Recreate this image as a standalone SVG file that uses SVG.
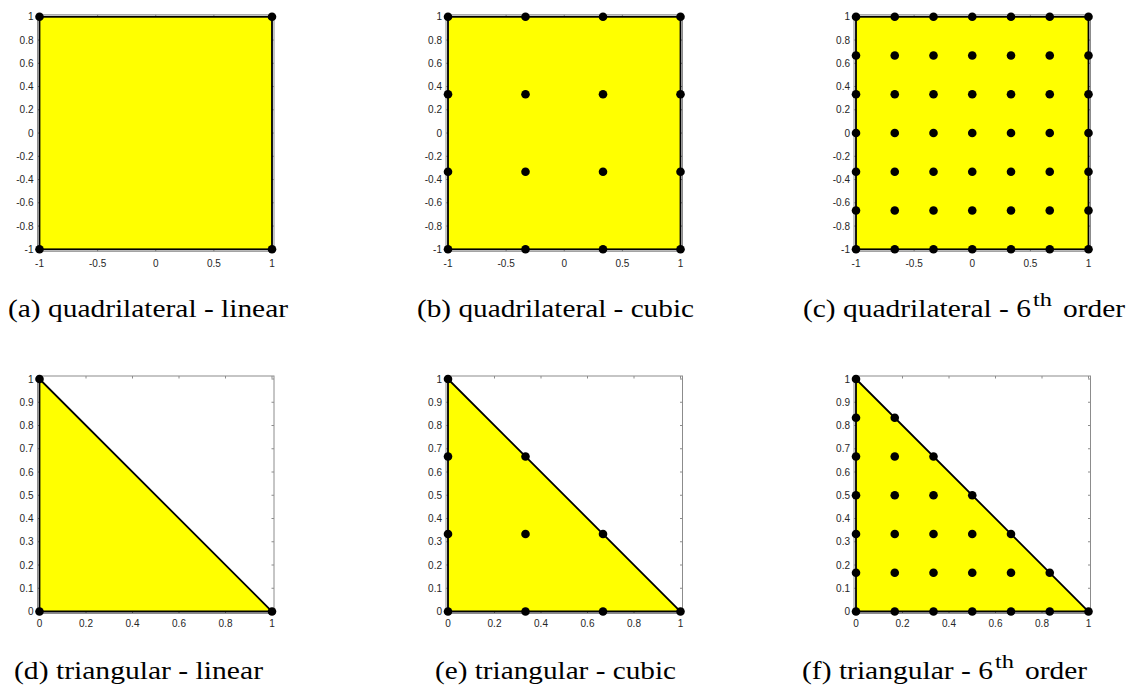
<svg xmlns="http://www.w3.org/2000/svg" xmlns:xlink="http://www.w3.org/1999/xlink" width="1132" height="689" viewBox="0 0 1132 689">
<style>
.frame{fill:none;stroke:#8c8c8c;stroke-width:1}
.tick{fill:none;stroke:#8c8c8c;stroke-width:1}
.elem{fill:#ffff00;stroke:#000;stroke-width:1.8;stroke-linejoin:miter}
.pt{fill:#000}
.yl{font-family:'Liberation Sans',Arial,sans-serif;font-size:10px;fill:#262626;text-anchor:end}
.xl{font-family:'Liberation Sans',Arial,sans-serif;font-size:10px;fill:#262626;text-anchor:middle}
.cap{font-family:'Liberation Serif','Times New Roman',serif;font-size:26px;fill:#000}
.sup{font-family:'Liberation Serif','Times New Roman',serif;font-size:18px;fill:#000}
</style>
<defs>
<g id="qframe">
<rect class="frame" x="-2" y="-2" width="236.5" height="236.5"/>
<path class="tick" d="M0 234.5v-2.5M58.13 234.5v-2.5M116.25 234.5v-2.5M174.38 234.5v-2.5M232.5 234.5v-2.5M0 -2v2.5M58.13 -2v2.5M116.25 -2v2.5M174.38 -2v2.5M232.5 -2v2.5M-2 0h2.5M-2 23.25h2.5M-2 46.5h2.5M-2 69.75h2.5M-2 93h2.5M-2 116.25h2.5M-2 139.5h2.5M-2 162.75h2.5M-2 186h2.5M-2 209.25h2.5M-2 232.5h2.5M234.5 0h-2.5M234.5 23.25h-2.5M234.5 46.5h-2.5M234.5 69.75h-2.5M234.5 93h-2.5M234.5 116.25h-2.5M234.5 139.5h-2.5M234.5 162.75h-2.5M234.5 186h-2.5M234.5 209.25h-2.5M234.5 232.5h-2.5"/>
</g>
<g id="tframe">
<rect class="frame" x="-2" y="-3" width="236.5" height="237.5"/>
<path class="tick" d="M0 234.5v-2.5M46.5 234.5v-2.5M93 234.5v-2.5M139.5 234.5v-2.5M186 234.5v-2.5M232.5 234.5v-2.5M0 -3v2.5M46.5 -3v2.5M93 -3v2.5M139.5 -3v2.5M186 -3v2.5M232.5 -3v2.5M-2 0h2.5M-2 23.25h2.5M-2 46.5h2.5M-2 69.75h2.5M-2 93h2.5M-2 116.25h2.5M-2 139.5h2.5M-2 162.75h2.5M-2 186h2.5M-2 209.25h2.5M-2 232.5h2.5M234.5 0h-2.5M234.5 23.25h-2.5M234.5 46.5h-2.5M234.5 69.75h-2.5M234.5 93h-2.5M234.5 116.25h-2.5M234.5 139.5h-2.5M234.5 162.75h-2.5M234.5 186h-2.5M234.5 209.25h-2.5M234.5 232.5h-2.5"/>
</g>
<g id="qlabels">
<text class="yl" x="-6" y="3.5">1</text>
<text class="yl" x="-6" y="26.75">0.8</text>
<text class="yl" x="-6" y="50">0.6</text>
<text class="yl" x="-6" y="73.25">0.4</text>
<text class="yl" x="-6" y="96.5">0.2</text>
<text class="yl" x="-6" y="119.75">0</text>
<text class="yl" x="-6" y="143">-0.2</text>
<text class="yl" x="-6" y="166.25">-0.4</text>
<text class="yl" x="-6" y="189.5">-0.6</text>
<text class="yl" x="-6" y="212.75">-0.8</text>
<text class="yl" x="-6" y="236">-1</text>
<text class="xl" x="0" y="250">-1</text>
<text class="xl" x="58.13" y="250">-0.5</text>
<text class="xl" x="116.25" y="250">0</text>
<text class="xl" x="174.38" y="250">0.5</text>
<text class="xl" x="232.5" y="250">1</text>
</g>
<g id="tlabels">
<text class="yl" x="-6" y="3.5">1</text>
<text class="yl" x="-6" y="26.75">0.9</text>
<text class="yl" x="-6" y="50">0.8</text>
<text class="yl" x="-6" y="73.25">0.7</text>
<text class="yl" x="-6" y="96.5">0.6</text>
<text class="yl" x="-6" y="119.75">0.5</text>
<text class="yl" x="-6" y="143">0.4</text>
<text class="yl" x="-6" y="166.25">0.3</text>
<text class="yl" x="-6" y="189.5">0.2</text>
<text class="yl" x="-6" y="212.75">0.1</text>
<text class="yl" x="-6" y="236">0</text>
<text class="xl" x="0" y="248">0</text>
<text class="xl" x="46.5" y="248">0.2</text>
<text class="xl" x="93" y="248">0.4</text>
<text class="xl" x="139.5" y="248">0.6</text>
<text class="xl" x="186" y="248">0.8</text>
<text class="xl" x="232.5" y="248">1</text>
</g>
</defs>

<g id="plot-a" transform="translate(39.5,16.8)">
<use xlink:href="#qframe"/>
<rect class="elem" x="0" y="0" width="232.5" height="232.5"/>
<g class="pt">
<circle cx="0" cy="0" r="4.3"/><circle cx="232.5" cy="0" r="4.3"/><circle cx="0" cy="232.5" r="4.3"/><circle cx="232.5" cy="232.5" r="4.3"/>
</g>
<use xlink:href="#qlabels"/>
</g>

<g id="plot-b" transform="translate(448,16.8)">
<use xlink:href="#qframe"/>
<rect class="elem" x="0" y="0" width="232.5" height="232.5"/>
<g class="pt">
<circle cx="0" cy="0" r="4.3"/><circle cx="77.5" cy="0" r="4.3"/><circle cx="155" cy="0" r="4.3"/><circle cx="232.5" cy="0" r="4.3"/>
<circle cx="0" cy="77.5" r="4.3"/><circle cx="77.5" cy="77.5" r="4.3"/><circle cx="155" cy="77.5" r="4.3"/><circle cx="232.5" cy="77.5" r="4.3"/>
<circle cx="0" cy="155" r="4.3"/><circle cx="77.5" cy="155" r="4.3"/><circle cx="155" cy="155" r="4.3"/><circle cx="232.5" cy="155" r="4.3"/>
<circle cx="0" cy="232.5" r="4.3"/><circle cx="77.5" cy="232.5" r="4.3"/><circle cx="155" cy="232.5" r="4.3"/><circle cx="232.5" cy="232.5" r="4.3"/>
</g>
<use xlink:href="#qlabels"/>
</g>

<g id="plot-c" transform="translate(856,16.8)">
<use xlink:href="#qframe"/>
<rect class="elem" x="0" y="0" width="232.5" height="232.5"/>
<g class="pt">
<circle cx="0" cy="0" r="4.3"/><circle cx="38.75" cy="0" r="4.3"/><circle cx="77.5" cy="0" r="4.3"/><circle cx="116.25" cy="0" r="4.3"/><circle cx="155" cy="0" r="4.3"/><circle cx="193.75" cy="0" r="4.3"/><circle cx="232.5" cy="0" r="4.3"/>
<circle cx="0" cy="38.75" r="4.3"/><circle cx="38.75" cy="38.75" r="4.3"/><circle cx="77.5" cy="38.75" r="4.3"/><circle cx="116.25" cy="38.75" r="4.3"/><circle cx="155" cy="38.75" r="4.3"/><circle cx="193.75" cy="38.75" r="4.3"/><circle cx="232.5" cy="38.75" r="4.3"/>
<circle cx="0" cy="77.5" r="4.3"/><circle cx="38.75" cy="77.5" r="4.3"/><circle cx="77.5" cy="77.5" r="4.3"/><circle cx="116.25" cy="77.5" r="4.3"/><circle cx="155" cy="77.5" r="4.3"/><circle cx="193.75" cy="77.5" r="4.3"/><circle cx="232.5" cy="77.5" r="4.3"/>
<circle cx="0" cy="116.25" r="4.3"/><circle cx="38.75" cy="116.25" r="4.3"/><circle cx="77.5" cy="116.25" r="4.3"/><circle cx="116.25" cy="116.25" r="4.3"/><circle cx="155" cy="116.25" r="4.3"/><circle cx="193.75" cy="116.25" r="4.3"/><circle cx="232.5" cy="116.25" r="4.3"/>
<circle cx="0" cy="155" r="4.3"/><circle cx="38.75" cy="155" r="4.3"/><circle cx="77.5" cy="155" r="4.3"/><circle cx="116.25" cy="155" r="4.3"/><circle cx="155" cy="155" r="4.3"/><circle cx="193.75" cy="155" r="4.3"/><circle cx="232.5" cy="155" r="4.3"/>
<circle cx="0" cy="193.75" r="4.3"/><circle cx="38.75" cy="193.75" r="4.3"/><circle cx="77.5" cy="193.75" r="4.3"/><circle cx="116.25" cy="193.75" r="4.3"/><circle cx="155" cy="193.75" r="4.3"/><circle cx="193.75" cy="193.75" r="4.3"/><circle cx="232.5" cy="193.75" r="4.3"/>
<circle cx="0" cy="232.5" r="4.3"/><circle cx="38.75" cy="232.5" r="4.3"/><circle cx="77.5" cy="232.5" r="4.3"/><circle cx="116.25" cy="232.5" r="4.3"/><circle cx="155" cy="232.5" r="4.3"/><circle cx="193.75" cy="232.5" r="4.3"/><circle cx="232.5" cy="232.5" r="4.3"/>
</g>
<use xlink:href="#qlabels"/>
</g>

<g id="plot-d" transform="translate(39.5,379)">
<use xlink:href="#tframe"/>
<polygon class="elem" points="0,0 0,232.5 232.5,232.5"/>
<g class="pt">
<circle cx="0" cy="0" r="4.3"/><circle cx="0" cy="232.5" r="4.3"/><circle cx="232.5" cy="232.5" r="4.3"/>
</g>
<use xlink:href="#tlabels"/>
</g>

<g id="plot-e" transform="translate(448,379)">
<use xlink:href="#tframe"/>
<polygon class="elem" points="0,0 0,232.5 232.5,232.5"/>
<g class="pt">
<circle cx="0" cy="232.5" r="4.3"/><circle cx="77.5" cy="232.5" r="4.3"/><circle cx="155" cy="232.5" r="4.3"/><circle cx="232.5" cy="232.5" r="4.3"/>
<circle cx="0" cy="155" r="4.3"/><circle cx="77.5" cy="155" r="4.3"/><circle cx="155" cy="155" r="4.3"/>
<circle cx="0" cy="77.5" r="4.3"/><circle cx="77.5" cy="77.5" r="4.3"/>
<circle cx="0" cy="0" r="4.3"/>
</g>
<use xlink:href="#tlabels"/>
</g>

<g id="plot-f" transform="translate(856,379)">
<use xlink:href="#tframe"/>
<polygon class="elem" points="0,0 0,232.5 232.5,232.5"/>
<g class="pt">
<circle cx="0" cy="232.5" r="4.3"/><circle cx="38.75" cy="232.5" r="4.3"/><circle cx="77.5" cy="232.5" r="4.3"/><circle cx="116.25" cy="232.5" r="4.3"/><circle cx="155" cy="232.5" r="4.3"/><circle cx="193.75" cy="232.5" r="4.3"/><circle cx="232.5" cy="232.5" r="4.3"/>
<circle cx="0" cy="193.75" r="4.3"/><circle cx="38.75" cy="193.75" r="4.3"/><circle cx="77.5" cy="193.75" r="4.3"/><circle cx="116.25" cy="193.75" r="4.3"/><circle cx="155" cy="193.75" r="4.3"/><circle cx="193.75" cy="193.75" r="4.3"/>
<circle cx="0" cy="155" r="4.3"/><circle cx="38.75" cy="155" r="4.3"/><circle cx="77.5" cy="155" r="4.3"/><circle cx="116.25" cy="155" r="4.3"/><circle cx="155" cy="155" r="4.3"/>
<circle cx="0" cy="116.25" r="4.3"/><circle cx="38.75" cy="116.25" r="4.3"/><circle cx="77.5" cy="116.25" r="4.3"/><circle cx="116.25" cy="116.25" r="4.3"/>
<circle cx="0" cy="77.5" r="4.3"/><circle cx="38.75" cy="77.5" r="4.3"/><circle cx="77.5" cy="77.5" r="4.3"/>
<circle cx="0" cy="38.75" r="4.3"/><circle cx="38.75" cy="38.75" r="4.3"/>
<circle cx="0" cy="0" r="4.3"/>
</g>
<use xlink:href="#tlabels"/>
</g>

<g id="captions">
<text class="cap" x="8" y="317" textLength="280" lengthAdjust="spacingAndGlyphs">(a) quadrilateral - linear</text>
<text class="cap" x="417" y="317" textLength="277" lengthAdjust="spacingAndGlyphs">(b) quadrilateral - cubic</text>
<text class="cap" x="803" y="317" textLength="228" lengthAdjust="spacingAndGlyphs">(c) quadrilateral - 6</text>
<text class="sup" x="1033" y="306" textLength="19" lengthAdjust="spacingAndGlyphs">th</text>
<text class="cap" x="1063" y="317" textLength="62" lengthAdjust="spacingAndGlyphs">order</text>
<text class="cap" x="14" y="679" textLength="249" lengthAdjust="spacingAndGlyphs">(d) triangular - linear</text>
<text class="cap" x="435" y="679" textLength="241" lengthAdjust="spacingAndGlyphs">(e) triangular - cubic</text>
<text class="cap" x="802" y="679" textLength="191" lengthAdjust="spacingAndGlyphs">(f) triangular - 6</text>
<text class="sup" x="995" y="668" textLength="19" lengthAdjust="spacingAndGlyphs">th</text>
<text class="cap" x="1025" y="679" textLength="62" lengthAdjust="spacingAndGlyphs">order</text>
</g>
</svg>
